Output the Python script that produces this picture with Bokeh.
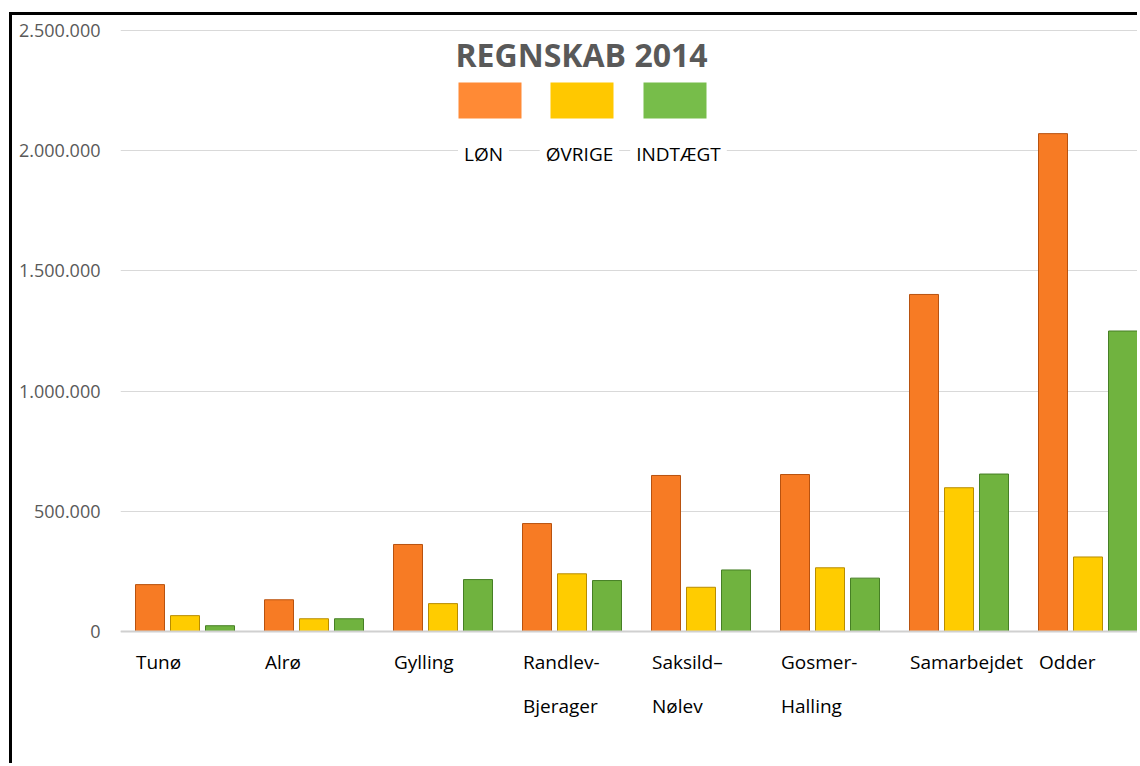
from bokeh.plotting import figure
from bokeh.models import Range1d, FixedTicker, BoxAnnotation, Label, ColumnDataSource, Span
from bokeh.transform import dodge
from bokeh.core.properties import value
from bokeh.embed import file_html
from bokeh.resources import INLINE

# ---------------- data ----------------
categories = ["Tunø", "Alrø", "Gylling", "Randlev-\nBjerager", "Saksild–\nNølev",
              "Gosmer-\nHalling", "Samarbejdet", "Odder"]
loen = [195000, 132000, 362000, 449000, 649000, 653000, 1402000, 2071000]
oevrige = [66000, 53000, 116000, 240000, 184000, 265000, 598000, 310000]
indtaegt = [24000, 53000, 216000, 212000, 256000, 222000, 655000, 1250000]
series_names = ["LØN", "ØVRIGE", "INDTÆGT"]
y_ticks = [0, 500000, 1000000, 1500000, 2000000, 2500000]
y_tick_labels = ["0", "500.000", "1.000.000", "1.500.000", "2.000.000", "2.500.000"]
title_text = "REGNSKAB 2014"

# ---------------- styling / layout ----------------
FILL = ["#F77B24", "#FFCC00", "#70B33F"]
EDGE = ["#B8520F", "#B88C00", "#467F25"]
SWATCH = ["#FF8A35", "#FFC800", "#77BD4A"]

OX, OY = 12, 15             # page position of the figure content
FRAME_L, FRAME_T, FRAME_B, PAGE_R = 120, 15, 766, 1140
Y0_PX = 631                 # pixel row of value 0
PX_PER_500K = 120.2
S = 500000.0 / PX_PER_500K  # data units per pixel
CAT_PX = 129.0              # pixel width of one category

def xd(px):
    return (px - FRAME_L) / CAT_PX

def yd(py):
    return (Y0_PX - py) * S

W = PAGE_R - OX
H = FRAME_B - OY

pos = [i + 0.5 for i in range(len(categories))]
src = ColumnDataSource(dict(pos=pos, cat=categories, loen=loen, oevrige=oevrige,
                            indtaegt=indtaegt))

p = figure(width=W, height=H, output_backend="svg", toolbar_location=None,
           x_range=Range1d(0, (PAGE_R - FRAME_L) / CAT_PX),
           y_range=Range1d(yd(FRAME_B), yd(FRAME_T)),
           x_axis_location=None, y_axis_location="left",
           min_border_left=FRAME_L - OX, min_border_top=FRAME_T - OY,
           min_border_right=0, min_border_bottom=0)
p.margin = (12, 0, 0, 9)
p.styles = {"border-top": "3px solid black", "border-left": "3px solid black"}
p.outline_line_color = None
p.background_fill_color = "white"
p.border_fill_color = "white"

# y axis
ax = p.yaxis[0]
ax.ticker = FixedTicker(ticks=y_ticks)
ax.major_label_overrides = {t: l for t, l in zip(y_ticks, y_tick_labels)}
ax.axis_line_color = None
ax.major_tick_line_color = None
ax.minor_tick_line_color = None
ax.major_label_standoff = 14
ax.major_label_text_font = "Open Sans"
ax.major_label_text_font_size = "18px"
ax.major_label_text_color = "#595959"

p.xgrid.visible = False
p.ygrid.ticker = FixedTicker(ticks=y_ticks)
p.ygrid.grid_line_color = "#D9D9D9"
p.ygrid.grid_line_width = 1

# zero baseline (slightly heavier, as in the original)
p.add_layout(Span(location=0, dimension="width", line_color="#D0D0D0", line_width=2))

# bars
BAR_W = 29 / CAT_PX
STEP = 35 / CAT_PX
for i, col in enumerate(["loen", "oevrige", "indtaegt"]):
    p.vbar(x=dodge("pos", (i - 1) * STEP, range=p.x_range), top=col, bottom=0,
           width=BAR_W, source=src, fill_color=FILL[i], line_color=EDGE[i],
           line_width=1)

# category labels
p.text(x=dodge("pos", -0.38, range=p.x_range), y=yd(648), text="cat", source=src,
       text_font=value("Open Sans"), text_font_size="19px", text_color="black",
       text_align="left", text_baseline="top", text_line_height=1.72)

# title
p.add_layout(Label(x=xd(581), y=yd(54), text=title_text, text_font="Open Sans",
                   text_font_style="bold", text_font_size="32px", text_color="#595959",
                   text_align="center", text_baseline="middle"))

# custom legend
sw_left = [458, 550, 643]
lbl_x = [483, 579, 678]
for i in range(3):
    p.add_layout(BoxAnnotation(left=xd(sw_left[i]), right=xd(sw_left[i] + 63),
                               top=yd(82), bottom=yd(118), fill_color=SWATCH[i],
                               fill_alpha=1.0, line_color=None))
    p.add_layout(Label(x=xd(lbl_x[i]), y=yd(153), text=series_names[i],
                       text_font="Open Sans", text_font_size="19px", text_color="black",
                       text_align="center", text_baseline="middle",
                       background_fill_color="white", padding=6))

open("out.html", "w").write(file_html(p, INLINE))
